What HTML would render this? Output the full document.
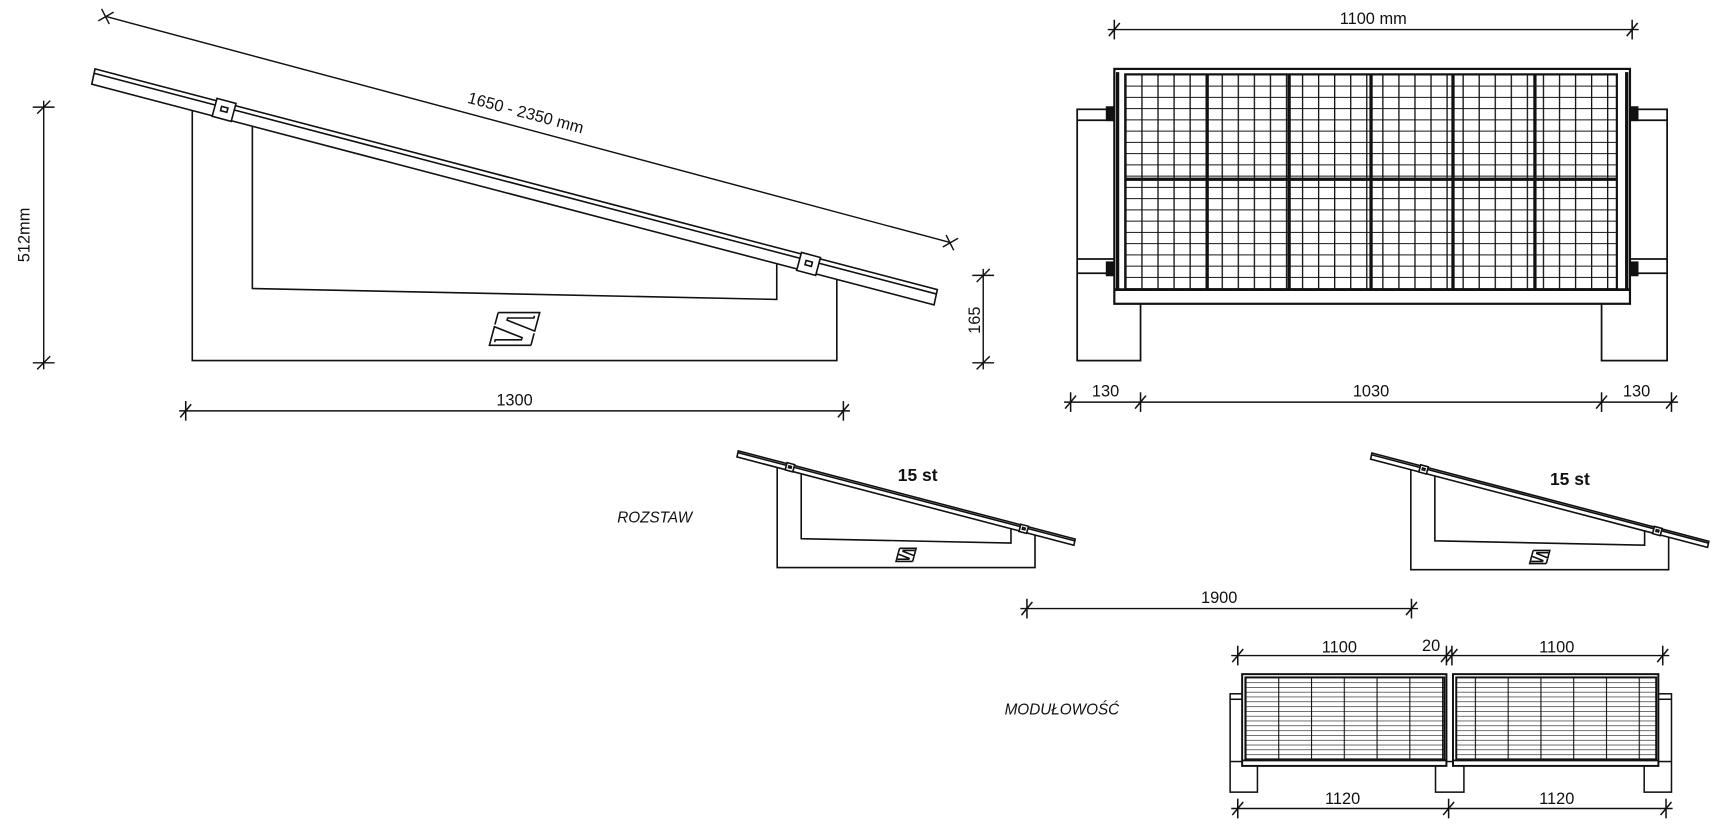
<!DOCTYPE html>
<html><head><meta charset="utf-8">
<style>
html,body{margin:0;padding:0;background:#fff;}
svg{display:block;}
text{font-family:"Liberation Sans",sans-serif;fill:#111;}
</style></head>
<body>
<svg width="1713" height="837" viewBox="0 0 1568 766" xmlns="http://www.w3.org/2000/svg">
<defs>
  <pattern id="gridBig" x="1030" y="68" width="14.7" height="10.3" patternUnits="userSpaceOnUse">
    <rect width="14.7" height="10.3" fill="#fff"/>
    <line x1="0" y1="0" x2="0" y2="10.3" stroke="#111" stroke-width="2.4"/>
    <line x1="0" y1="0" x2="14.7" y2="0" stroke="#111" stroke-width="1.8"/>
  </pattern>
  <pattern id="gridSmall" x="1140" y="620" width="30" height="4.4" patternUnits="userSpaceOnUse">
    <rect width="30" height="4.4" fill="#fff"/>
    <line x1="0" y1="0" x2="0" y2="4.4" stroke="#111" stroke-width="2"/>
    <line x1="0" y1="0" x2="30" y2="0" stroke="#111" stroke-width="1.2"/>
  </pattern>
  <g id="side" fill="none" stroke="#111" stroke-width="1.6">
    <path vector-effect="non-scaling-stroke" d="M176,101 L176,330 L766,330 L766,256"/>
    <path vector-effect="non-scaling-stroke" d="M231,116 L231,264 L711,274 L711,242"/>
    <polygon vector-effect="non-scaling-stroke" fill="#fff" points="87,63 858,265 855,279 84,77"/>
    <line vector-effect="non-scaling-stroke" x1="86" y1="67" x2="857" y2="269"/>
    <g transform="translate(205,101) rotate(15)"><rect vector-effect="non-scaling-stroke" x="-9" y="-9" width="18" height="17" fill="#fff"/><rect vector-effect="non-scaling-stroke" x="-3" y="-3" width="6" height="4"/></g>
    <g transform="translate(740,242) rotate(15)"><rect vector-effect="non-scaling-stroke" x="-9" y="-9" width="18" height="17" fill="#fff"/><rect vector-effect="non-scaling-stroke" x="-3" y="-3" width="6" height="4"/></g>
    <g transform="translate(470,301) skewX(-15)">
      <path vector-effect="non-scaling-stroke" d="M-18,-15 L20,-15 L20,2 L-8,-8 L-8,-10 L16,-10 L16,-12"/>
      <path vector-effect="non-scaling-stroke" d="M-18,-15 L-18,-4 M20,15 L-18,15 L-18,-2 L10,8 L10,10 L-14,10 L-14,12 M20,15 L20,4"/>
    </g>
  </g>
  <g id="tick" stroke="#111" stroke-width="1.4"><line x1="-5" y1="6" x2="5" y2="-6"/><line x1="0" y1="-9" x2="0" y2="9"/></g>
</defs>

<!-- big side view -->
<use href="#side"/>
<!-- 1650-2350 dim -->
<g stroke="#111" stroke-width="1.3">
  <line x1="97" y1="15" x2="870" y2="222"/>
  <line x1="90" y1="19" x2="104" y2="11"/><line x1="93" y1="8" x2="100" y2="22"/>
  <line x1="863" y1="226" x2="877" y2="218"/><line x1="866" y1="215" x2="873" y2="229"/>
  <!-- 512 -->
  <line x1="40" y1="92" x2="40" y2="338"/><line x1="30" y1="98" x2="50" y2="98"/><line x1="34" y1="104" x2="46" y2="92"/>
  <line x1="30" y1="332" x2="50" y2="332"/><line x1="34" y1="338" x2="46" y2="326"/>
  <!-- 165 -->
  <line x1="900" y1="246" x2="900" y2="338"/><line x1="890" y1="252" x2="910" y2="252"/><line x1="894" y1="258" x2="906" y2="246"/>
  <line x1="890" y1="332" x2="910" y2="332"/><line x1="894" y1="338" x2="906" y2="326"/>
  <!-- 1300 -->
  <line x1="164" y1="376" x2="778" y2="376"/>
</g>
<use href="#tick" x="170" y="376"/><use href="#tick" x="772" y="376"/>
<text x="480" y="108" font-size="15" transform="rotate(15 480 108)" text-anchor="middle">1650 - 2350 mm</text>
<text x="27" y="215" font-size="15" transform="rotate(-90 27 215)" text-anchor="middle">512mm</text>
<text x="897" y="293" font-size="15" transform="rotate(-90 897 293)" text-anchor="middle">165</text>
<text x="471" y="371" font-size="15" text-anchor="middle">1300</text>

<!-- front view -->
<g fill="none" stroke="#111" stroke-width="1.6">
  <rect x="986" y="100" width="58" height="230" fill="#fff"/>
  <line x1="986" y1="110" x2="1020" y2="110"/><line x1="986" y1="237" x2="1020" y2="237"/><line x1="986" y1="250" x2="1020" y2="250"/>
  <rect x="1466" y="100" width="60" height="230" fill="#fff"/>
  <line x1="1490" y1="110" x2="1526" y2="110"/><line x1="1490" y1="237" x2="1526" y2="237"/><line x1="1490" y1="250" x2="1526" y2="250"/>
  <rect x="1020" y="63" width="472" height="215" fill="#fff" stroke-width="2"/>
  <rect x="1030" y="68" width="450" height="197" fill="url(#gridBig)" stroke-width="2"/>
  <line x1="1020" y1="265" x2="1492" y2="265" stroke-width="2.5"/>
  <line x1="1030" y1="164" x2="1480" y2="164" stroke-width="3"/>
  <line x1="1105" y1="68" x2="1105" y2="265" stroke-width="3"/><line x1="1180" y1="68" x2="1180" y2="265" stroke-width="3"/>
  <line x1="1255" y1="68" x2="1255" y2="265" stroke-width="3"/><line x1="1330" y1="68" x2="1330" y2="265" stroke-width="3"/>
  <line x1="1405" y1="68" x2="1405" y2="265" stroke-width="3"/>
  <line x1="1023" y1="66" x2="1023" y2="265" stroke-width="3"/><line x1="1489" y1="66" x2="1489" y2="265" stroke-width="3"/>
  <rect x="1013" y="98" width="6" height="12" fill="#111"/><rect x="1013" y="240" width="6" height="12" fill="#111"/>
  <rect x="1493" y="98" width="6" height="12" fill="#111"/><rect x="1493" y="240" width="6" height="12" fill="#111"/>
</g>
<g stroke="#111" stroke-width="1.3">
  <line x1="1014" y1="27" x2="1500" y2="27"/>
  <line x1="974" y1="368" x2="1536" y2="368"/>
  <line x1="934" y1="557" x2="1298" y2="557"/>
  <line x1="1127" y1="600" x2="1528" y2="600"/>
  <line x1="1127" y1="740" x2="1531" y2="740"/>
</g>
<use href="#tick" x="1020" y="27"/><use href="#tick" x="1494" y="27"/>
<use href="#tick" x="980" y="368"/><use href="#tick" x="1044" y="368"/><use href="#tick" x="1466" y="368"/><use href="#tick" x="1530" y="368"/>
<use href="#tick" x="940" y="557"/><use href="#tick" x="1292" y="557"/>
<use href="#tick" x="1133" y="600"/><use href="#tick" x="1324" y="600"/><use href="#tick" x="1329" y="600"/><use href="#tick" x="1522" y="600"/>
<use href="#tick" x="1133" y="740"/><use href="#tick" x="1326" y="740"/><use href="#tick" x="1525" y="740"/>
<text x="1257" y="22" font-size="15" text-anchor="middle">1100 mm</text>
<text x="1012" y="363" font-size="15" text-anchor="middle">130</text>
<text x="1255" y="363" font-size="15" text-anchor="middle">1030</text>
<text x="1498" y="363" font-size="15" text-anchor="middle">130</text>

<!-- small side views -->
<use href="#side" transform="translate(641,387.4) scale(0.4)"/>
<use href="#side" transform="translate(1221,389.4) scale(0.4)"/>
<text x="840" y="440" font-size="16" font-weight="bold" text-anchor="middle">15 st</text>
<text x="1437" y="444" font-size="16" font-weight="bold" text-anchor="middle">15 st</text>
<text x="565" y="478" font-size="14" font-style="italic">ROZSTAW</text>
<text x="1116" y="552" font-size="15" text-anchor="middle">1900</text>

<!-- modularity -->
<g fill="none" stroke="#111" stroke-width="1.4">
  <rect x="1126" y="635" width="25" height="90" fill="#fff"/>
  <line x1="1126" y1="640" x2="1137" y2="640"/><line x1="1126" y1="697" x2="1137" y2="697"/>
  <rect x="1314" y="697" width="26" height="28" fill="#fff"/>
  <rect x="1505" y="635" width="25" height="90" fill="#fff"/>
  <line x1="1518" y1="640" x2="1530" y2="640"/><line x1="1518" y1="697" x2="1530" y2="697"/>
  <rect x="1137" y="617" width="187" height="84" fill="#fff" stroke-width="1.8"/>
  <rect x="1140" y="620" width="182" height="75" fill="url(#gridSmall)" stroke-width="1.8"/>
  <line x1="1137" y1="696" x2="1324" y2="696" stroke-width="1.8"/>
  <rect x="1330" y="617" width="188" height="84" fill="#fff" stroke-width="1.8"/>
  <rect x="1333" y="620" width="183" height="75" fill="url(#gridSmall)" stroke-width="1.8"/>
  <line x1="1330" y1="696" x2="1518" y2="696" stroke-width="1.8"/>
</g>
<text x="1226" y="597" font-size="15" text-anchor="middle">1100</text>
<text x="1310" y="596" font-size="15" text-anchor="middle">20</text>
<text x="1425" y="597" font-size="15" text-anchor="middle">1100</text>
<text x="1229" y="736" font-size="15" text-anchor="middle">1120</text>
<text x="1425" y="736" font-size="15" text-anchor="middle">1120</text>
<text x="972" y="654" font-size="14" font-style="italic" text-anchor="middle">MODUŁOWOŚĆ</text>
</svg>
</body></html>
